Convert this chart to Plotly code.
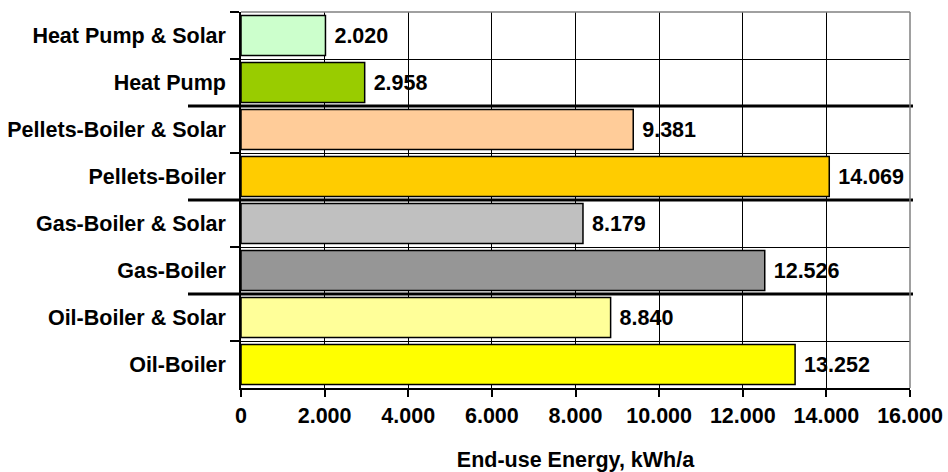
import plotly.graph_objects as go

# Heating systems, listed top to bottom
systems = [
    "Heat Pump & Solar",
    "Heat Pump",
    "Pellets-Boiler & Solar",
    "Pellets-Boiler",
    "Gas-Boiler & Solar",
    "Gas-Boiler",
    "Oil-Boiler & Solar",
    "Oil-Boiler",
]
energy_kwh = [2020, 2958, 9381, 14069, 8179, 12526, 8840, 13252]
bar_colors = ["#CCFFCC", "#99CC00", "#FFCC99", "#FFCC00",
              "#C0C0C0", "#969696", "#FFFF99", "#FFFF00"]
# number of systems in each technology group (heat pump, pellets, gas, oil)
group_sizes = [2, 2, 2, 2]
x_ticks = [0, 2000, 4000, 6000, 8000, 10000, 12000, 14000, 16000]

FONT = dict(family="Arial, Liberation Sans, sans-serif", size=21.5, color="black", weight="bold")

fig = go.Figure(
    go.Bar(
        y=systems,
        x=energy_kwh,
        orientation="h",
        marker=dict(color=bar_colors, line=dict(color="black", width=1.5)),
        texttemplate=" %{x:,d}",
        textposition="outside",
        textfont=FONT,
        constraintext="none",
        cliponaxis=False,
        hoverinfo="skip",
    )
)

# thick separators between the technology groups
L, R, T, B = 241, 38, 12, 84
W, H = 948, 472
plot_w = W - L - R
boundary = -0.5
shapes = []
for size in group_sizes[:-1]:
    boundary += size
    shapes.append(dict(type="line", xref="paper", yref="y",
                       x0=-(L - 188) / plot_w, x1=1 + 3 / plot_w,
                       y0=boundary, y1=boundary,
                       line=dict(color="black", width=3), layer="above"))
# grey frame on the top and right of the plot area
shapes.append(dict(type="line", xref="paper", yref="paper", x0=0, x1=1, y0=1, y1=1,
                   line=dict(color="#808080", width=1.5), layer="above"))
shapes.append(dict(type="line", xref="paper", yref="paper", x0=1, x1=1, y0=0, y1=1,
                   line=dict(color="#808080", width=1.5), layer="above"))

fig.update_layout(
    width=W, height=H,
    margin=dict(l=L, r=R, t=T, b=B, autoexpand=False),
    paper_bgcolor="white", plot_bgcolor="white",
    font=FONT,
    separators=",.",
    bargap=0.15,
    showlegend=False,
    shapes=shapes,
    xaxis=dict(
        range=[0, 16000],
        tickvals=x_ticks,
        tickformat=",d",
        automargin=False,
        showgrid=True, gridcolor="black", gridwidth=1,
        showline=True, linecolor="black", linewidth=1.5,
        ticks="outside", ticklen=7, tickcolor="black", tickwidth=1.5,
        zeroline=False,
        tickfont=FONT,
        title=dict(text="End-use Energy, kWh/a", font=FONT, standoff=26),
    ),
    yaxis=dict(
        autorange="reversed",
        tickson="boundaries",
        automargin=False,
        showgrid=True, gridcolor="black", gridwidth=1,
        showline=True, linecolor="black", linewidth=1.5,
        ticks="outside", ticklen=9, tickcolor="black", tickwidth=1.5,
        tickfont=FONT,
        ticklabelstandoff=9,
    ),
)

fig.write_html("out.html")
